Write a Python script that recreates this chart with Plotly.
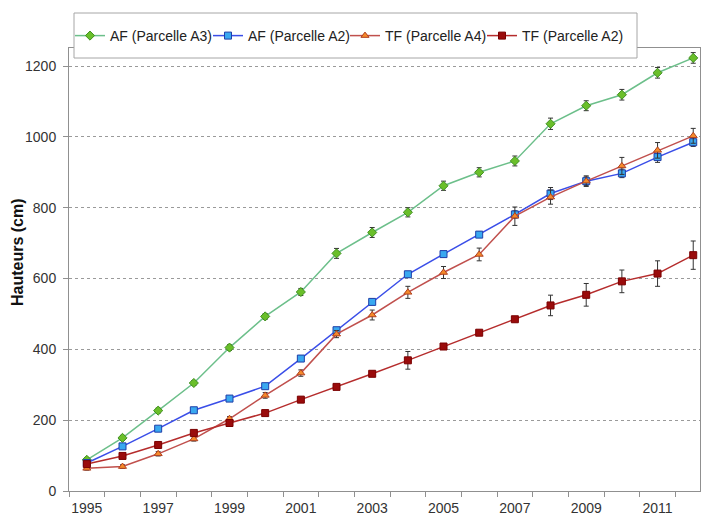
import plotly.graph_objects as go

years = list(range(1995, 2013))

af_a3 = [88, 150, 227, 305, 405, 493, 562, 671, 730, 787, 862, 900, 932, 1037, 1088, 1119, 1181, 1223]
af_a3_err = [6, 7, 7, 7, 8, 8, 10, 14, 14, 13, 13, 13, 14, 16, 14, 15, 15, 15]

af_a2 = [79, 126, 176, 228, 261, 296, 374, 454, 534, 612, 669, 724, 781, 840, 875, 897, 943, 985]
af_a2_err = [5, 5, 6, 6, 6, 6, 8, 8, 8, 8, 8, 8, 10, 17, 12, 12, 15, 12]

tf_a4 = [64, 69, 105, 147, 204, 270, 333, 443, 497, 561, 617, 668, 776, 830, 875, 918, 962, 1003]
tf_a4_err = [5, 5, 6, 6, 6, 8, 9, 10, 14, 17, 17, 18, 26, 20, 15, 24, 22, 21]

tf_a2 = [76, 99, 130, 164, 192, 220, 258, 294, 331, 369, 408, 447, 485, 524, 554, 592, 614, 666]
tf_a2_err = [5, 5, 5, 6, 6, 7, 7, 6, 7, 25, 6, 6, 7, 29, 32, 32, 36, 40]

names = ["AF (Parcelle A3)", "AF (Parcelle A2)", "TF (Parcelle A4)", "TF (Parcelle A2)"]

x_ticks = list(range(1995, 2013, 2))
y_ticks = [0, 200, 400, 600, 800, 1000, 1200]

series = [
    (af_a3, af_a3_err, names[0], "#6cbf8a", "diamond", "#6abf2a", "#3f8f1f"),
    (af_a2, af_a2_err, names[1], "#3a4ee8", "square", "#39a8f0", "#1f3fa8"),
    (tf_a4, tf_a4_err, names[2], "#c0504d", "triangle-up", "#f58a2a", "#b04020"),
    (tf_a2, tf_a2_err, names[3], "#b52c2c", "square", "#9a0b0b", "#7a0000"),
]

W, H = 701, 517
ML, MR, MT, MB = 69, 1, 48, 26
PW, PH = W - ML - MR, H - MT - MB


def px_x(x):
    return (x - ML) / PW


def px_y(y):
    return (H - MB - y) / PH


font_family = "Liberation Sans, Arial, sans-serif"
legend_ids = ["legend", "legend2", "legend3", "legend4"]
legend_x = [70, 208, 345, 482]

fig = go.Figure()
for (vals, errs, name, lc, sym, mc, mlc), lid in zip(series, legend_ids):
    fig.add_trace(go.Scatter(
        x=years, y=vals, name=name, mode="lines+markers", legend=lid,
        line=dict(color=lc, width=1.5),
        marker=dict(symbol=sym, size=7, color=mc, line=dict(color=mlc, width=1)),
        error_y=dict(type="data", array=errs, visible=True, color="#333333", thickness=1, width=2.5),
        cliponaxis=False,
    ))

legend_layout = {}
for lid, lx in zip(legend_ids, legend_x):
    legend_layout[lid] = dict(
        orientation="h", x=px_x(lx), y=px_y(20), xanchor="left", yanchor="top",
        bgcolor="rgba(0,0,0,0)", borderwidth=0,
        font=dict(size=14, color="#222222", family=font_family), itemwidth=30,
    )

fig.update_layout(
    width=W, height=H,
    margin=dict(l=ML, r=MR, t=MT, b=MB),
    paper_bgcolor="white", plot_bgcolor="white",
    font=dict(family=font_family, size=14, color="#333333"),
    showlegend=True,
    xaxis=dict(
        range=[1994.5, 2012.19],
        tickmode="array", tickvals=x_ticks, ticktext=[str(v) for v in x_ticks],
        ticks="", showgrid=False, zeroline=False,
        showline=True, linecolor="#909090", linewidth=1, mirror=True,
        tickfont=dict(size=14, color="#333333"), ticklabelstandoff=4,
        minor=dict(tickmode="array", tickvals=[y - 0.5 for y in years] + [2012.5],
                   ticks="outside", ticklen=5, tickcolor="#909090", showgrid=False),
    ),
    yaxis=dict(
        range=[0, 1251],
        tickmode="array", tickvals=y_ticks,
        ticks="outside", ticklen=5, tickcolor="#909090",
        showgrid=True, gridcolor="#9a9a9a", griddash="dot", gridwidth=1,
        zeroline=False,
        showline=True, linecolor="#909090", linewidth=1, mirror=True,
        tickfont=dict(size=14, color="#333333"), ticklabelstandoff=4,
    ),
    shapes=[dict(
        type="rect", xref="paper", yref="paper",
        x0=px_x(74), x1=px_x(637), y0=px_y(58), y1=px_y(13),
        fillcolor="white", line=dict(color="#a6a6a6", width=1), layer="above",
    )],
    annotations=[dict(
        text="<b>Hauteurs (cm)</b>", x=px_x(17), y=px_y(252), xref="paper", yref="paper",
        xanchor="center", yanchor="middle",
        showarrow=False, textangle=-90, font=dict(size=16, color="#111111"),
    )],
    **legend_layout,
)

fig.write_html("out.html", config={"displayModeBar": False},
               post_script="document.body.style.margin='0px';")
